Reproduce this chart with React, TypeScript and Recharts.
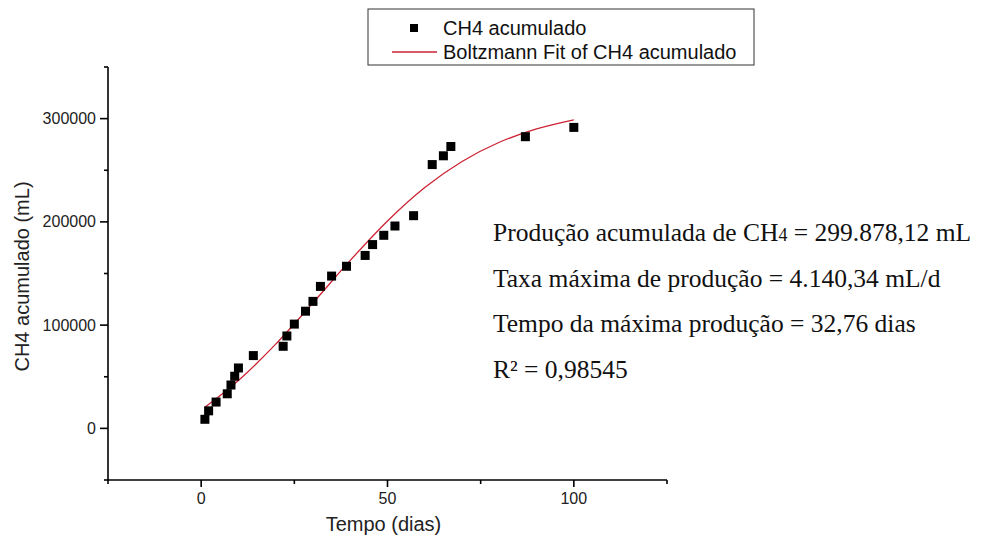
import React from "react";
import { ComposedChart, Scatter, Line, XAxis, YAxis } from "recharts";

// measured cumulative methane (mL) per day
const days = [1, 2, 4, 7, 8, 9, 10, 14, 22, 23, 25, 28, 30, 32, 35, 39, 44, 46, 49, 52, 57, 62, 65, 67, 87, 100];
const ch4 = [
  8800, 17000, 25500, 33500, 42000, 50500, 58500, 70500, 79500, 89500, 101000, 113500, 123000,
  137500, 147500, 157000, 167500, 178000, 187000, 196000, 206000, 255500, 264000, 273000, 282500, 291500,
];

// Boltzmann fit curve
const fitDays = [1, 10, 20, 30, 40, 50, 60, 70, 80, 90, 100];
const fitCh4 = [20400, 46400, 81600, 121600, 162700, 200900, 233300, 258500, 277100, 290000, 298800];

const xTicks = [-25, 0, 25, 50, 75, 100, 125];
const xLabels = [0, 50, 100];
const yTicks = [-50000, 0, 50000, 100000, 150000, 200000, 250000, 300000, 350000];
const yLabels = [0, 100000, 200000, 300000];

const seriesName = "CH4 acumulado";
const fitName = "Boltzmann Fit of CH4 acumulado";

const notes = [
  ["Produção acumulada de CH", "4", " = 299.878,12 mL"],
  ["Taxa máxima de produção = 4.140,34 mL/d"],
  ["Tempo da máxima produção = 32,76 dias"],
  ["R² = 0,98545"],
];

const sans = "'Liberation Sans', Arial, sans-serif";
const serif = "'Liberation Serif', 'Times New Roman', serif";

const points = days.map((t, i) => ({ t, v: ch4[i] }));
const fit = fitDays.map((t, i) => ({ t, v: fitCh4[i] }));

const XTick = ({ x, y, payload }: any) => {
  const major = xLabels.includes(payload.value);
  return (
    <g>
      <line x1={x} x2={x} y1={y} y2={y + (major ? 7 : 4)} stroke="#000" strokeWidth={1.6} />
      {major && (
        <text x={x} y={y + 24} textAnchor="middle" fontSize={16} fontFamily={sans} fill="#222">
          {payload.value}
        </text>
      )}
    </g>
  );
};

const YTick = ({ x, y, payload }: any) => {
  const major = yLabels.includes(payload.value);
  return (
    <g>
      <line x1={x} x2={x - (major ? 8 : 4)} y1={y} y2={y} stroke="#000" strokeWidth={1.6} />
      {major && (
        <text x={x - 12} y={y + 5.5} textAnchor="end" fontSize={16} fontFamily={sans} fill="#222">
          {payload.value}
        </text>
      )}
    </g>
  );
};

const YTitle = ({ viewBox }: any) => {
  const cx = viewBox.x - 26;
  const cy = viewBox.y + viewBox.height / 2 + 3;
  return (
    <text
      x={cx}
      y={cy}
      transform={`rotate(-90 ${cx} ${cy})`}
      textAnchor="middle"
      dominantBaseline="central"
      fontSize={20}
      fontFamily={sans}
      fill="#222"
    >
      CH4 acumulado (mL)
    </text>
  );
};

const XTitle = ({ viewBox }: any) => (
  <text
    x={viewBox.x + viewBox.width / 2 - 4}
    y={viewBox.y + 51}
    textAnchor="middle"
    fontSize={20}
    fontFamily={sans}
    fill="#222"
  >
    Tempo (dias)
  </text>
);

const SquareDot = ({ cx, cy }: any) => <rect x={cx - 4.5} y={cy - 4.5} width={9} height={9} fill="#000" />;

export default function App() {
  return (
    <div style={{ position: "absolute", left: 0, top: 0, width: 994, height: 540, background: "#fff" }}>
      <ComposedChart width={994} height={540} margin={{ top: 67, right: 327, bottom: 0, left: 48 }}>
        <XAxis
          type="number"
          dataKey="t"
          domain={[-25, 125]}
          ticks={xTicks}
          interval={0}
          allowDataOverflow
          height={60}
          axisLine={{ stroke: "#000", strokeWidth: 1.6 }}
          tickLine={false}
          tickSize={0}
          tickMargin={0}
          tick={<XTick />}
          label={<XTitle />}
        />
        <YAxis
          type="number"
          dataKey="v"
          domain={[-50000, 350000]}
          ticks={yTicks}
          interval={0}
          allowDataOverflow
          width={60}
          axisLine={{ stroke: "#000", strokeWidth: 1.6 }}
          tickLine={false}
          tickSize={0}
          tickMargin={0}
          tick={<YTick />}
          label={<YTitle />}
        />
        <Scatter name={seriesName} data={points} dataKey="v" shape={<SquareDot />} isAnimationActive={false} />
        <Line
          name={fitName}
          data={fit}
          dataKey="v"
          type="monotone"
          stroke="#cc2233"
          strokeWidth={1.3}
          dot={false}
          isAnimationActive={false}
        />
      </ComposedChart>

      <svg
        width={994}
        height={540}
        style={{ position: "absolute", left: 0, top: 0, pointerEvents: "none" }}
      >
        {/* legend */}
        <rect x={368} y={9} width={386} height={56} fill="#fff" stroke="#333" strokeWidth={1} />
        <rect x={410} y={24} width={8} height={8} fill="#000" />
        <text x={443} y={35} fontSize={20} fontFamily={sans} fill="#111">
          {seriesName}
        </text>
        <line x1={392} x2={437} y1={52} y2={52} stroke="#cc2233" strokeWidth={1.3} />
        <text x={443} y={59} fontSize={20} fontFamily={sans} fill="#111">
          {fitName}
        </text>

        {/* fit parameters */}
        {notes.map((parts, i) => (
          <text key={i} x={493} y={241 + i * 45.7} fontSize={25.5} fontFamily={serif} fill="#111">
            {parts.length === 3 ? (
              <>
                {parts[0]}
                <tspan fontSize={18}>{parts[1]}</tspan>
                {parts[2]}
              </>
            ) : (
              parts[0]
            )}
          </text>
        ))}
      </svg>
    </div>
  );
}
